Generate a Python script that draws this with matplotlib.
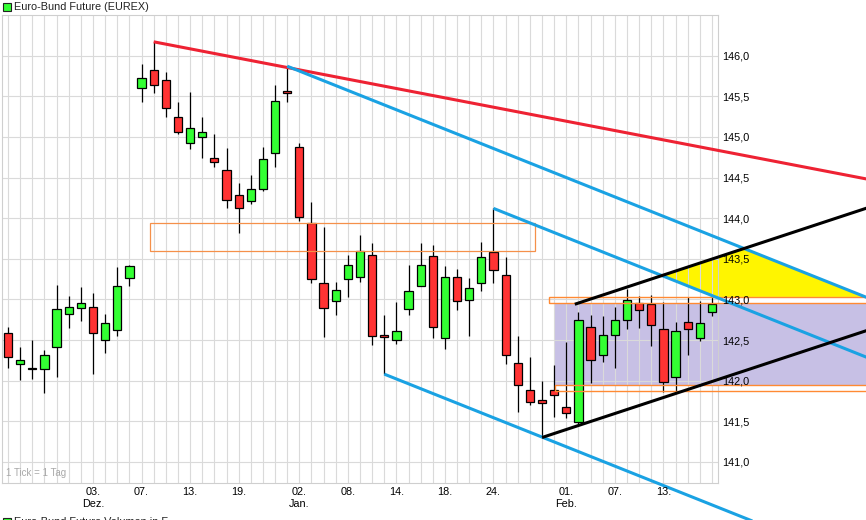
import numpy as np
import matplotlib
matplotlib.use("Agg")
import matplotlib.pyplot as plt
from matplotlib.patches import Rectangle

plt.rcParams['font.family'] = ['Liberation Sans', 'DejaVu Sans']

# ---------------- data ----------------
opens = [142.59, 142.21, 142.16, 142.14, 142.42, 142.82, 142.90, 142.91, 142.50, 142.62,
         143.26, 145.60, 145.82, 145.70, 145.25, 144.92, 145.00, 144.74, 144.59, 144.28,
         144.21, 144.36, 144.80, 145.56, 144.87, 143.94, 143.20, 142.98, 143.25, 143.28,
         143.55, 142.56, 142.50, 142.88, 143.16, 143.53, 142.52, 143.27, 142.99, 143.20,
         143.58, 143.30, 142.22, 141.88, 141.76, 141.89, 141.68, 141.49, 142.66, 142.31,
         142.56, 142.75, 142.96, 142.94, 142.63, 142.04, 142.72, 142.53, 142.85]
highs = [142.66, 142.42, 142.50, 142.38, 143.18, 143.04, 143.15, 143.08, 142.82, 143.40,
         143.42, 145.90, 146.17, 145.80, 145.43, 145.55, 145.25, 145.04, 144.86, 144.43,
         144.53, 144.87, 145.64, 145.87, 144.92, 144.20, 143.89, 143.21, 143.55, 143.79,
         143.69, 142.81, 142.97, 143.42, 143.70, 143.67, 143.41, 143.37, 143.26, 143.71,
         144.12, 143.52, 142.55, 142.29, 141.99, 142.19, 142.47, 142.84, 142.81, 142.80,
         142.91, 143.13, 143.04, 143.05, 142.97, 142.72, 143.03, 142.98, 143.03]
lows = [142.15, 142.01, 142.02, 141.85, 142.04, 142.65, 142.74, 142.08, 142.34, 142.55,
        143.16, 145.43, 145.54, 145.25, 145.04, 144.85, 144.74, 144.63, 144.13, 143.82,
        144.18, 144.34, 144.63, 145.43, 143.96, 143.20, 142.54, 142.81, 143.03, 143.21,
        142.44, 142.08, 142.45, 142.81, 143.16, 142.53, 142.39, 142.87, 142.55, 143.10,
        143.20, 142.21, 141.62, 141.70, 141.30, 141.55, 141.54, 141.47, 141.97, 142.23,
        142.15, 142.64, 142.65, 142.43, 141.86, 141.86, 142.31, 142.49, 142.79]
closes = [142.29, 142.25, 142.14, 142.31, 142.88, 142.90, 142.95, 142.59, 142.71, 143.17,
          143.41, 145.73, 145.64, 145.35, 145.06, 145.11, 145.06, 144.69, 144.22, 144.13,
          144.36, 144.73, 145.44, 145.54, 144.01, 143.25, 142.90, 143.12, 143.42, 143.59,
          142.55, 142.54, 142.61, 143.10, 143.42, 142.66, 143.27, 142.98, 143.14, 143.52,
          143.36, 142.32, 141.95, 141.74, 141.72, 141.82, 141.60, 142.75, 142.26, 142.56,
          142.74, 142.99, 142.87, 142.68, 141.98, 142.61, 142.63, 142.71, 142.94]

tick_pos = [7, 11, 15, 19, 24, 28, 32, 36, 40, 46, 50, 54]
tick_labels = ["03.\nDez.", "07.", "13.", "19.", "02.\nJan.", "08.", "14.", "18.",
               "24.", "01.\nFeb.", "07.", "13."]
y_ticks = [141.0, 141.5, 142.0, 142.5, 143.0, 143.5, 144.0, 144.5, 145.0, 145.5, 146.0]
y_labels = ["141,0", "141,5", "142,0", "142,5", "143,0", "143,5", "144,0", "144,5",
            "145,0", "145,5", "146,0"]

# trend lines: (start index, start value, slope per trading day)
red_line = (12, 146.17, -0.02874)
blue_a = (23, 145.87, -0.0596)
blue_b = (40, 144.12, -0.0596)
blue_c = (31, 142.08, -0.0596)
black_low = (44, 141.30, 0.0492)
black_up = (46.7, 142.94, 0.0492)

# zones
resist_box = (11.7, 43.4, 143.60, 143.94)      # x0, x1, y0, y1
band_up = (44.55, 142.96, 143.03)
band_low = (45.05, 141.87, 141.95)
lavender_zone = (45.05, 141.95, 142.96)

# ---------------- figure ----------------
W, H = 866, 520
fig = plt.figure(figsize=(W / 100, H / 100), dpi=100)
ax = fig.add_axes([2 / W, 1 - 483 / H, 716 / W, 468 / H])
ax.set_xlim(-0.5, 58.5)
ax.set_ylim(140.74, 146.5)
X_END = 71.5

for s in ax.spines.values():
    s.set_color('#cfcfcf')
    s.set_linewidth(0.8)

grid_c = '#dadada'
for i in range(len(opens)):
    ax.axvline(i, color=grid_c, lw=0.8, zorder=1.5)
for v in y_ticks:
    ax.axhline(v, color=grid_c, lw=0.8, zorder=1.5)

# lavender zone & bands
x0, lo, hi = lavender_zone
ax.add_patch(Rectangle((x0, lo), X_END - x0, hi - lo, facecolor='#c7c0e5',
                       edgecolor='none', zorder=1, clip_on=False))
for (bx, b0, b1) in (band_up, band_low):
    ax.add_patch(Rectangle((bx, b0), X_END - bx, b1 - b0, facecolor='none',
                           edgecolor='#ff8a33', lw=1.0, zorder=4, clip_on=False))
rx0, rx1, ry0, ry1 = resist_box
ax.add_patch(Rectangle((rx0, ry0), rx1 - rx0, ry1 - ry0, facecolor='none',
                       edgecolor='#f5904a', lw=0.9, zorder=4))


def line_vals(spec, x):
    x0, v0, k = spec
    return v0 + k * (x - x0)


# yellow zone
xs = np.linspace(44, X_END, 800)
upper = np.minimum(line_vals(black_up, xs), line_vals(blue_a, xs))
lower = np.maximum(line_vals(blue_b, xs), band_up[2])
fb = ax.fill_between(xs, lower, upper, where=upper > lower, facecolor='#fff500',
                     edgecolor='none', zorder=1, interpolate=True)
fb.set_clip_on(False)

# candles
idx = np.arange(len(opens))
o = np.array(opens); c = np.array(closes)
ax.vlines(idx, lows, highs, color='black', lw=0.9, zorder=3)
cols = ['#33ff33' if cc >= oo else '#ff3333' for oo, cc in zip(o, c)]
bottoms = np.minimum(o, c)
heights = np.maximum(np.abs(c - o), 0.02)
ax.bar(idx, heights, bottom=bottoms, width=0.68, color=cols, edgecolor='black',
       linewidth=0.9, zorder=3.5)

# trend lines
for spec, col in ((red_line, '#ee2233'), (blue_a, '#1aa2e3'), (blue_b, '#1aa2e3'),
                  (blue_c, '#1aa2e3'), (black_low, 'black'), (black_up, 'black')):
    xx = np.array([spec[0], X_END])
    ax.plot(xx, line_vals(spec, xx), color=col, lw=2.2, zorder=5,
            solid_capstyle='butt', clip_on=False)

# axes ticks
ax.set_xticks(tick_pos)
ax.set_xticklabels(tick_labels, fontsize=7.8, linespacing=1.25)
ax.yaxis.tick_right()
ax.set_yticks(y_ticks)
ax.set_yticklabels(y_labels, fontsize=7.8)
ax.tick_params(axis='both', length=0)
ax.tick_params(axis='y', pad=3)
ax.tick_params(axis='x', pad=3)
ax.yaxis.set_zorder(8)
ax.xaxis.set_zorder(8)

ax.text(0.005, 0.01, "1 Tick = 1 Tag", transform=ax.transAxes, fontsize=7,
        color='#a8a8a8', ha='left', va='bottom', zorder=6)

# title with legend square
fig.add_artist(Rectangle((3 / W, 1 - 10.5 / H), 7.5 / W, 7.5 / H, transform=fig.transFigure,
                         facecolor='#33ff33', edgecolor='#222222', lw=0.8))
fig.text(14 / W, 1 - 7 / H, "Euro-Bund Future (EUREX)", fontsize=7.8, ha='left',
         va='center', color='#222222')

# bottom (cut-off) legend row
fig.add_artist(Rectangle((3 / W, 1 - 525 / H), 7.5 / W, 7.5 / H, transform=fig.transFigure,
                         facecolor='#33ff33', edgecolor='#222222', lw=0.8))
fig.text(14 / W, 1 - 525 / H, "Euro-Bund Future Volumen in F", fontsize=7.8,
         ha='left', va='baseline', color='#222222')

fig.savefig("out.png", dpi=100)
